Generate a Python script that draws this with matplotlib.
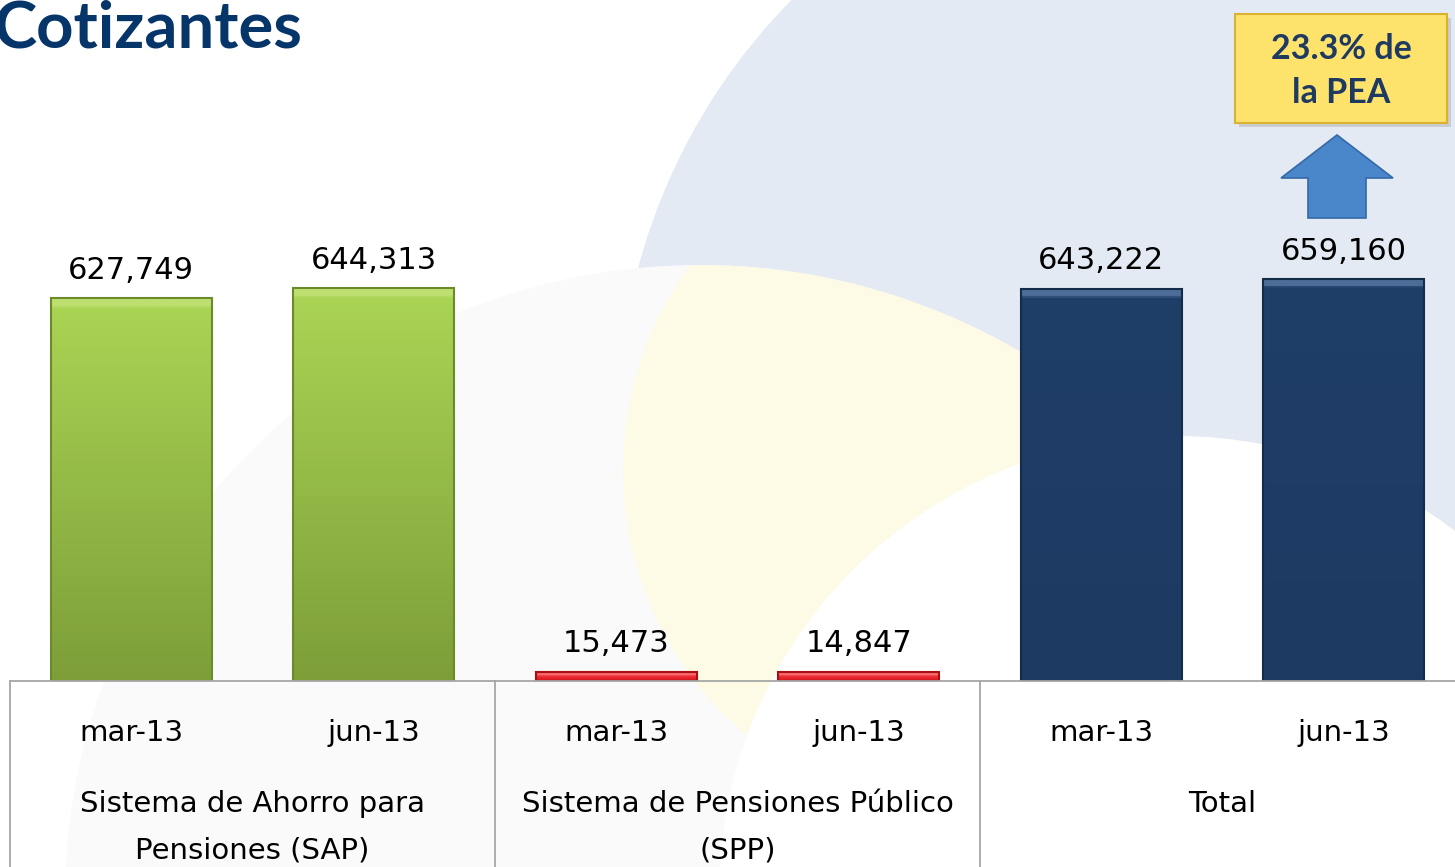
import numpy as np
import matplotlib.pyplot as plt
import matplotlib.transforms as mtransforms
from matplotlib.patches import Ellipse, Polygon, FancyBboxPatch
from matplotlib.colors import LinearSegmentedColormap

# data
categories = ['mar-13', 'jun-13', 'mar-13', 'jun-13', 'mar-13', 'jun-13']
values = [627749, 644313, 15473, 14847, 643222, 659160]
groups = ['Sistema de Ahorro para\nPensiones (SAP)', 'Sistema de Pensiones Público\n(SPP)', 'Total']
title = 'Cotizantes'
callout = '23.3% de\nla PEA'

# colours (bevel, top, bottom, edge) for each bar
bevel_colors = ['#bfe071', '#bfe071', '#f86a6e', '#f86a6e', '#4d6d98', '#4d6d98']
top_colors = ['#aad454', '#aad454', '#f2343a', '#f2343a', '#1f3e68', '#1f3e68']
bottom_colors = ['#7d9e39', '#7d9e39', '#d01418', '#d01418', '#1d3a62', '#1d3a62']
edge_colors = ['#6a8a2c', '#6a8a2c', '#a80f12', '#a80f12', '#142c4a', '#142c4a']

W, H = 1455, 867
fig = plt.figure(figsize=(W / 100, H / 100), dpi=100)
fig.patch.set_facecolor('white')


def fx(x):
    return x / W


def fy(y):
    return 1 - y / H


def circle(cx, cy, r, color):
    e = Ellipse((fx(cx), fy(cy)), 2 * r / W, 2 * r / H, transform=fig.transFigure,
                facecolor=color, edgecolor='none', zorder=0)
    fig.add_artist(e)
    return e


# faint background circles of the slide
circle(1218, 422, 600, '#e4eaf4')
lens = circle(700, 900, 635, '#fafafa')
yellow = circle(970, 470, 347, '#fdfae6')
yellow.set_clip_path(lens)
circle(1176, 893, 457, '#ffffff')

ax = fig.add_axes([fx(10), fy(681), 1455 / W, 681 / H])
ax.set_facecolor('none')
ax.set_zorder(2)
ax.set_xlim(-0.5, 5.5)
ax.set_ylim(0, 681 * 1639.5)

x = np.arange(len(values))
bars = ax.bar(x, values, width=0.664, color=bottom_colors, edgecolor='none', zorder=2)

# vertical shading with a light bevel along the top of every bar
px_per_unit = 681 / (681 * 1639.5)
grad = np.linspace(0, 1, 400).reshape(-1, 1)
for b, c_bev, c_top, c_bot in zip(bars, bevel_colors, top_colors, bottom_colors):
    x0, w, h = b.get_x(), b.get_width(), b.get_height()
    f = min(0.45, 8 / (h * px_per_unit))
    cmap = LinearSegmentedColormap.from_list(
        'g', [(0, c_bot), (1 - f, c_top), (1 - f * 0.9, c_bev), (1, c_bev)])
    im = ax.imshow(grad, cmap=cmap, extent=(x0, x0 + w, 0, h), origin='lower',
                   aspect='auto', zorder=2.5, interpolation='bilinear')
    im.set_clip_path(b)
ax.bar(x, values, width=0.664, fill=False, edgecolor=edge_colors, linewidth=1.5, zorder=3)
ax.set_xlim(-0.5, 5.5)
ax.set_ylim(0, 681 * 1639.5)
ax.axis('off')

# value labels
for xi, v in zip(x, values):
    ax.annotate(f'{v:,}', (xi, v), xytext=(0, 14), textcoords='offset points',
                ha='center', va='baseline', fontsize=22, color='black',
                family='DejaVu Sans')

# category table below the bars
tr = mtransforms.blended_transform_factory(ax.transData, fig.transFigure)
line_col = '#a6a6a6'
ax.plot([-0.5, 5.5], [fy(681), fy(681)], transform=tr, color=line_col, lw=1.3,
        clip_on=False, zorder=4)
for xv in [-0.5, 1.5, 3.5, 5.5]:
    ax.plot([xv, xv], [fy(681), 0], transform=tr, color=line_col, lw=1.3,
            clip_on=False, zorder=4)

for xi, lab in zip(x, categories):
    ax.text(xi, fy(741), lab, transform=tr, ha='center', va='baseline',
            fontsize=21, family='DejaVu Sans')

for gi, g in enumerate(groups):
    xc = 2 * gi + 0.5
    for li, part in enumerate(g.split('\n')):
        ax.text(xc, fy(812 + 46 * li), part, transform=tr, ha='center',
                va='baseline', fontsize=21, family='DejaVu Sans')

# title
fig.text(fx(-6), fy(48), title, ha='left', va='baseline', fontsize=47,
         fontweight='bold', color='#06356a', family=['Lato', 'DejaVu Sans'])

# callout box and arrow
shadow = FancyBboxPatch((fx(1239), fy(127)), 212 / W, 109 / H,
                        boxstyle='square,pad=0', transform=fig.transFigure,
                        facecolor='#b8b8b8', edgecolor='none', alpha=0.6, zorder=5)
fig.add_artist(shadow)
box = FancyBboxPatch((fx(1235), fy(123)), 212 / W, 109 / H,
                     boxstyle='square,pad=0', transform=fig.transFigure,
                     facecolor='#fde36c', edgecolor='#d9b232', linewidth=1.5, zorder=6)
fig.add_artist(box)
for li, part in enumerate(callout.split('\n')):
    fig.text(fx(1341), fy(59 + 44 * li), part, ha='center', va='baseline',
             fontsize=24.5, fontweight='bold', color='#1f3a60',
             family=['Lato', 'DejaVu Sans'], zorder=7)

arrow_px = [(1337, 135), (1393, 178), (1366, 178), (1366, 218),
            (1308, 218), (1308, 178), (1281, 178)]
arrow = Polygon([(fx(a), fy(b)) for a, b in arrow_px], closed=True,
                transform=fig.transFigure, facecolor='#4a87ca',
                edgecolor='#3468a6', linewidth=1.2, zorder=6)
fig.add_artist(arrow)

fig.savefig('out.png', dpi=100)
